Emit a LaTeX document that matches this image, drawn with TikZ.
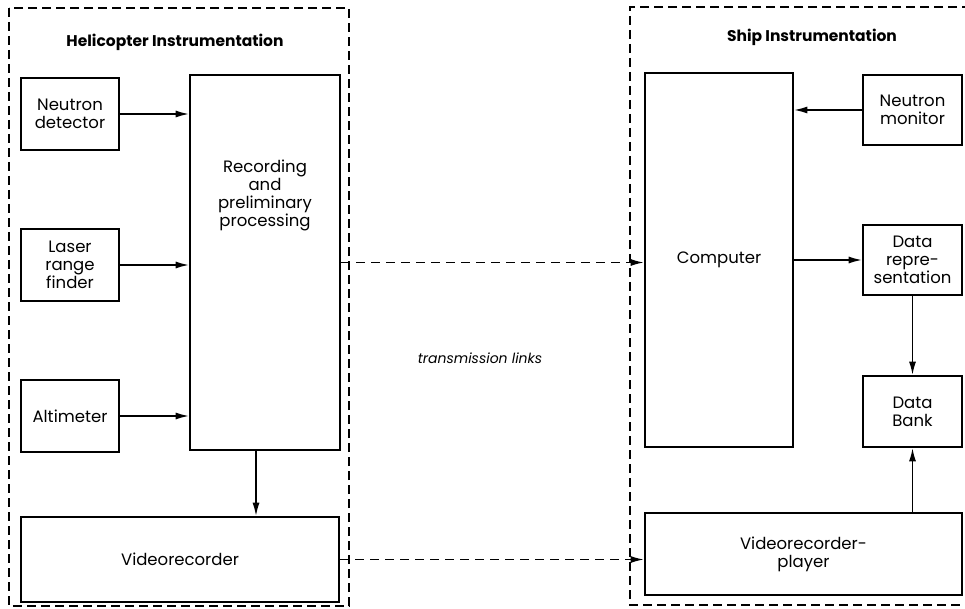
\documentclass[tikz,border=0pt]{standalone}
\usepackage{fontspec}
\setmainfont{Poppins}
\usepackage{tikz}
\usetikzlibrary{calc, arrows.meta}

\tikzset{
    blk/.style={draw, line width=2.6pt, inner sep=0pt, align=center,
        font=\fontsize{16.5}{18}\selectfont},
    arr/.style={-{Latex[length=13pt,width=7pt]}, line width=1.3pt},
    frame/.style={line width=1.6pt, dash pattern=on 9pt off 5pt},
    link/.style={-{Latex[length=13pt,width=7pt]}, line width=1.4pt, dash pattern=on 9pt off 6pt},
    ttl/.style={font=\fontsize{15.5}{17}\selectfont\bfseries}
}

\begin{document}
\begin{tikzpicture}[x=1pt, y=-1pt]
        \useasboundingbox (0,0) rectangle (965,609);

        % Dashed frames
        \draw[frame] (9,8) rectangle (349,606);
        \draw[frame] (985,7) -- (630,7) -- (630,605) -- (985,605);

        % Titles
        \node[ttl] (helititle) at (175,42) {Helicopter Instrumentation};
        \node[ttl] (shiptitle) at (812,37) {Ship Instrumentation};

        % Helicopter blocks
        \node[blk, minimum width=98pt, minimum height=72pt] (ndet) at (70,114) {Neutron\\detector};
        \node[blk, minimum width=98pt, minimum height=72pt] (laser) at (70,265) {Laser\\range\\finder};
        \node[blk, minimum width=98pt, minimum height=72pt] (alt) at (70,416) {Altimeter};
        \node[blk, minimum width=150pt, minimum height=375pt] (rec) at (265,262.5) {};
        \node[align=center, font=\fontsize{16.5}{18}\selectfont] (rectext) at (265,195)
            {Recording\\and\\preliminary\\processing};
        \node[blk, minimum width=318pt, minimum height=85pt] (vrec) at (180,559.5) {Videorecorder};

        % Ship blocks
        \node[blk, minimum width=148pt, minimum height=374pt] (comp) at (719,260) {Computer};
        \node[blk, minimum width=99pt, minimum height=70pt] (nmon) at (912.5,110) {Neutron\\monitor};
        \node[blk, minimum width=99pt, minimum height=70pt] (drep) at (912.5,260) {Data\\repre-\\sentation};
        \node[blk, minimum width=99pt, minimum height=71pt] (bank) at (912.5,411.5) {Data\\Bank};
        \node[blk, minimum width=317pt, minimum height=82pt] (vplay) at (803.5,554) {Videorecorder-\\player};

        % Connections inside the helicopter
        \draw[arr] (ndet.east) -- (ndet.east -| rec.west);
        \draw[arr] (laser.east) -- (laser.east -| rec.west);
        \draw[arr] (alt.east) -- (alt.east -| rec.west);
        \draw[arr] ($(rec.south)+(-9,0)$) -- ($(rec.south |- vrec.north)+(-9,0)$);

        % Connections on the ship
        \draw[arr] (nmon.west) -- (nmon.west -| comp.east);
        \draw[arr] (comp.east) -- (comp.east -| drep.west);
        \draw[arr] (drep.south) -- (bank.north);
        \draw[arr] (vplay.north -| bank.south) -- (bank.south);

        % Transmission links
        \draw[link] (rec.east) -- (rec.east -| comp.west);
        \draw[link] (vrec.east) -- (vrec.east -| vplay.west);
        \node[font=\fontsize{14}{16}\selectfont\itshape] (links) at (480,358) {transmission links};
    \end{tikzpicture}
\end{document}
